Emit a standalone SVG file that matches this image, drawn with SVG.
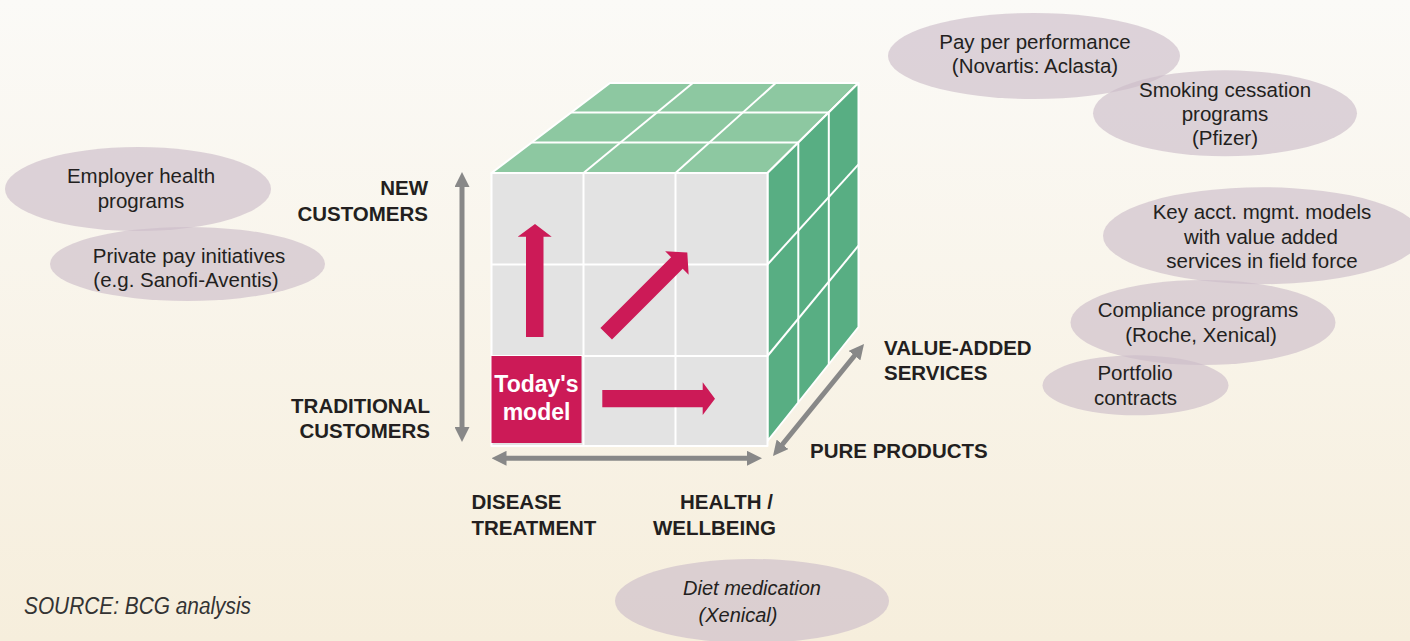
<svg xmlns="http://www.w3.org/2000/svg" width="1410" height="641" viewBox="0 0 1410 641">
  <defs>
    <linearGradient id="bg" x1="0" y1="0" x2="0" y2="1">
      <stop offset="0" stop-color="#FBFAF7"/>
      <stop offset="1" stop-color="#F6EEDC"/>
    </linearGradient>
    <marker id="grayHead" viewBox="0 0 10 10" refX="1" refY="5" markerWidth="3" markerHeight="3" orient="auto-start-reverse">
      <path d="M0,0 L10,5 L0,10 Z" fill="#888888"/>
    </marker>
    <style>
      .bubble { fill: #CDBDCA; fill-opacity: 0.65; }
      .btxt { font-family: "Liberation Sans", Arial, sans-serif; font-size: 20.5px; fill: #231F20; text-anchor: middle; }
      .itxt { font-family: "Liberation Sans", Arial, sans-serif; font-size: 20px; font-style: italic; fill: #231F20; text-anchor: middle; }
      .axis { font-family: "Liberation Sans", Arial, sans-serif; font-size: 20.5px; font-weight: bold; fill: #231F20; }
      .grid { stroke: #FFFFFF; stroke-width: 2; fill: none; }
      .face { stroke: #FFFFFF; stroke-width: 2; stroke-linejoin: round; }
      .axisline { stroke: #888888; stroke-width: 5; marker-start: url(#grayHead); marker-end: url(#grayHead); }
      .move { fill: #CC1A57; }
    </style>
  </defs>

  <rect x="0" y="0" width="1410" height="641" fill="url(#bg)"/>

  <!-- business model cube -->
  <g id="cube">
    <path class="face" d="M491.5,173 L610,83 L858.5,83 L767.5,173 Z" fill="#8DC8A1"/>
    <path class="face" d="M767.5,173 L858.5,83 L858.5,327 L767.5,441 Z" fill="#58AE83"/>
    <rect class="face" x="491.5" y="173" width="276" height="273" fill="#E3E3E3"/>
    <!-- front grid -->
    <line class="grid" x1="583.5" y1="173" x2="583.5" y2="446"/>
    <line class="grid" x1="675.5" y1="173" x2="675.5" y2="446"/>
    <line class="grid" x1="491.5" y1="264.5" x2="767.5" y2="264.5"/>
    <line class="grid" x1="491.5" y1="356" x2="767.5" y2="356"/>
    <!-- top grid -->
    <line class="grid" x1="583.5" y1="173" x2="692.8" y2="83"/>
    <line class="grid" x1="675.5" y1="173" x2="775.7" y2="83"/>
    <line class="grid" x1="571.2" y1="112.5" x2="828.8" y2="112.5"/>
    <line class="grid" x1="531.7" y1="142.5" x2="798.3" y2="142.5"/>
    <!-- side grid -->
    <line class="grid" x1="798.3" y1="142.5" x2="798.3" y2="402.2"/>
    <line class="grid" x1="828.8" y1="112.5" x2="828.8" y2="364.2"/>
    <line class="grid" x1="767.5" y1="264.5" x2="858.5" y2="164.3"/>
    <line class="grid" x1="767.5" y1="356" x2="858.5" y2="245.7"/>
  </g>

  <g id="todays-model">
    <rect x="491.5" y="356" width="90" height="87" fill="#CC1A57"/>
    <text x="536.5" y="391.7" font-family="Liberation Sans, Arial, sans-serif" font-size="23" font-weight="bold" fill="#FFFFFF" text-anchor="middle">Today's</text>
    <text x="536.5" y="420" font-family="Liberation Sans, Arial, sans-serif" font-size="23" font-weight="bold" fill="#FFFFFF" text-anchor="middle">model</text>
  </g>

  <!-- growth directions -->
  <g id="growth-arrows">
    <polygon class="move" points="526,337 526,236.7 517.7,236.7 535,224 551.7,236.7 543.5,236.7 543.5,337"/>
    <polygon class="move" transform="translate(606.2,333.7) rotate(-45)" points="0,-8.2 100,-8.2 100,-16.6 114.7,0 100,16.6 100,8.2 0,8.2"/>
    <polygon class="move" points="602.3,390 702.7,390 702.7,382.3 715,398.7 702.7,415 702.7,407.3 602.3,407.3"/>
  </g>

  <!-- cube axes -->
  <g id="connectors">
    <line class="axisline" x1="462" y1="185.5" x2="462" y2="428.5"/>
    <line class="axisline" x1="505" y1="458.3" x2="748.5" y2="458.3"/>
    <line class="axisline" x1="781.5" y1="445.5" x2="855.5" y2="354.5"/>
  </g>

  <g id="axis-labels">
    <text class="axis" x="428" y="195" text-anchor="end">NEW</text>
    <text class="axis" x="428" y="220.7" text-anchor="end">CUSTOMERS</text>
    <text class="axis" x="430" y="412.7" text-anchor="end">TRADITIONAL</text>
    <text class="axis" x="430" y="438.3" text-anchor="end">CUSTOMERS</text>
    <text class="axis" x="471.5" y="509.3">DISEASE</text>
    <text class="axis" x="471.5" y="535">TREATMENT</text>
    <text class="axis" x="773" y="509.3" text-anchor="end">HEALTH /</text>
    <text class="axis" x="776" y="535" text-anchor="end">WELLBEING</text>
    <text class="axis" x="884" y="355">VALUE-ADDED</text>
    <text class="axis" x="884" y="380">SERVICES</text>
    <text class="axis" x="810" y="458.3">PURE PRODUCTS</text>
  </g>

  <!-- example initiatives -->
  <g id="employer-health">
    <ellipse class="bubble" cx="138" cy="189" rx="133" ry="42"/>
    <text class="btxt" x="141" y="183.3">Employer health</text>
    <text class="btxt" x="141" y="208.3">programs</text>
  </g>
  <g id="private-pay">
    <ellipse class="bubble" cx="187.5" cy="264" rx="137.5" ry="37"/>
    <text class="btxt" x="189" y="263.3">Private pay initiatives</text>
    <text class="btxt" x="186" y="286.7">(e.g. Sanofi-Aventis)</text>
  </g>
  <g id="pay-per-performance">
    <ellipse class="bubble" cx="1034" cy="56" rx="146" ry="43"/>
    <text class="btxt" x="1035" y="49.3">Pay per performance</text>
    <text class="btxt" x="1035" y="73">(Novartis: Aclasta)</text>
  </g>
  <g id="smoking-cessation">
    <ellipse class="bubble" cx="1225" cy="113.3" rx="132" ry="43"/>
    <text class="btxt" x="1225" y="96.7">Smoking cessation</text>
    <text class="btxt" x="1225" y="120.5">programs</text>
    <text class="btxt" x="1225" y="145">(Pfizer)</text>
  </g>
  <g id="key-account">
    <ellipse class="bubble" cx="1262" cy="235.7" rx="159" ry="48.5"/>
    <text class="btxt" x="1262" y="219.3">Key acct. mgmt. models</text>
    <text class="btxt" x="1261" y="244.3">with value added</text>
    <text class="btxt" x="1262" y="268.3">services in field force</text>
  </g>
  <g id="compliance">
    <ellipse class="bubble" cx="1203" cy="322.5" rx="132.5" ry="42.5"/>
    <text class="btxt" x="1198" y="317.3">Compliance programs</text>
    <text class="btxt" x="1201" y="341.7">(Roche, Xenical)</text>
  </g>
  <g id="portfolio">
    <ellipse class="bubble" cx="1135.5" cy="385.3" rx="93" ry="30"/>
    <text class="btxt" x="1135" y="380">Portfolio</text>
    <text class="btxt" x="1135.5" y="405">contracts</text>
  </g>
  <g id="diet-medication">
    <ellipse class="bubble" cx="752" cy="601" rx="137" ry="42"/>
    <text class="itxt" x="752" y="595">Diet medication</text>
    <text class="itxt" x="738" y="621.7">(Xenical)</text>
  </g>

  <text x="24" y="614" font-family="Liberation Sans, Arial, sans-serif" font-size="23" font-style="italic" fill="#333333" textLength="227" lengthAdjust="spacingAndGlyphs">SOURCE: BCG analysis</text>
</svg>
